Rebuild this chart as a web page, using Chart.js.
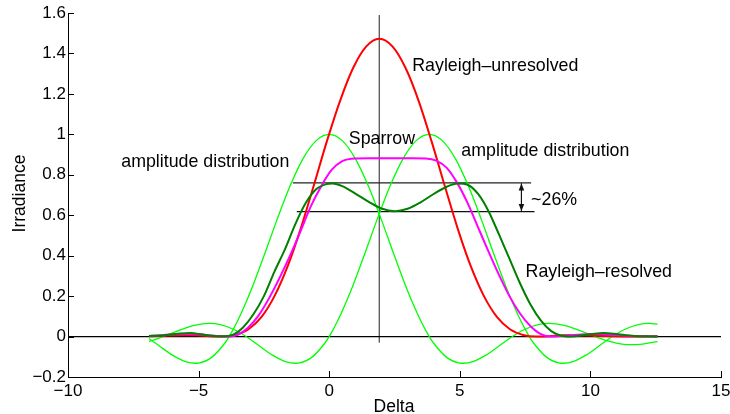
<!DOCTYPE html>
<html>
<head>
<meta charset="utf-8">
<script src="https://cdn.jsdelivr.net/npm/chart.js@4/dist/chart.umd.min.js"></script>
<style>
html,body{margin:0;padding:0;background:#fff;}
#wrap{width:730px;height:414px;position:relative;}
</style>
</head>
<body>
<div id="wrap"><canvas id="c" width="730" height="414"></canvas></div>
<script>
// ---- data ----
const xTicks = [-10, -5, 0, 5, 10, 15];
const xTickLabels = ['\u221210', '\u22125', '0', '5', '10', '15'];
const yTicks = [-0.2, 0, 0.2, 0.4, 0.6, 0.8, 1, 1.2, 1.4, 1.6];
const yTickLabels = ['\u22120.2', '0', '0.2', '0.4', '0.6', '0.8', '1', '1.2', '1.4', '1.6'];

// amplitude distribution, first source
const ampAx = [-6.9,-6.5,-6,-5.5,-5.14,-5,-4.5,-4,-3.83,-3.5,-3,-2.5,-2,-1.5,-1,-0.5,0,0.5,1,1.5,2,2.5,3,3.5,3.83,4,4.5,5,5.14,5.5,6,6.5,7,7.5,8,8.42,9,9.5,10,10.5,11,11.5,12,12.57];
const ampA  = [-0.010,-0.047,-0.092,-0.124,-0.132,-0.131,-0.103,-0.033,0,0.079,0.226,0.398,0.577,0.744,0.880,0.969,1,0.969,0.880,0.744,0.577,0.398,0.226,0.079,0,-0.033,-0.103,-0.131,-0.132,-0.124,-0.092,-0.047,-0.001,0.036,0.059,0.065,0.055,0.034,0.009,-0.015,-0.032,-0.040,-0.037,-0.025];

// amplitude distribution, second source
const ampBx = [-6.9,-6.67,-6.17,-5.67,-5.17,-4.59,-4.17,-3.67,-3.17,-2.67,-2.17,-1.67,-1.31,-1.17,-0.67,-0.17,0,0.33,0.83,1.33,1.83,2.33,2.83,3.33,3.83,4.33,4.83,5.33,5.83,6.33,6.83,7.33,7.66,7.83,8.33,8.83,8.97,9.33,9.83,10.33,10.83,11.33,11.83,12.25,12.57];
const ampB  = [-0.024,-0.015,0.009,0.034,0.055,0.065,0.059,0.036,-0.001,-0.047,-0.092,-0.124,-0.132,-0.131,-0.103,-0.033,0,0.079,0.226,0.398,0.577,0.744,0.880,0.969,1,0.969,0.880,0.744,0.577,0.398,0.226,0.079,0,-0.033,-0.103,-0.131,-0.132,-0.124,-0.092,-0.047,-0.001,0.036,0.059,0.065,0.061];

// Rayleigh-unresolved
const redX = [-6.9,-6.59,-6.09,-5.59,-5.09,-4.59,-4.09,-3.59,-3.09,-2.59,-2.09,-1.59,-1.09,-0.59,-0.09,0.42,0.92,1.42,1.92,2.42,2.92,3.42,3.92,4.42,4.92,5.42,5.92,6.42,6.92,7.42,7.92,8.42,8.92,9.42,9.92,10.42,10.92,11.42,11.92,12.42,12.57];
const redY = [0.001,0.003,0.005,0.007,0.006,0.002,0,0.008,0.036,0.097,0.201,0.348,0.534,0.747,0.965,1.167,1.329,1.435,1.473,1.435,1.329,1.167,0.965,0.747,0.534,0.348,0.201,0.097,0.036,0.008,0,0.002,0.006,0.007,0.005,0.003,0.001,0,0.0005,0.001,0.0015];

// Sparrow
const mgX = [-6.9,-6.4,-5.9,-5.4,-4.9,-4.4,-3.9,-3.5,-3.1,-2.7,-2.3,-1.9,-1.5,-1.1,-0.7,-0.3,0.1,0.5,1.0,1.5,2.33,3.2,3.7,4.1,4.5,4.9,5.3,5.7,6.1,6.5,6.9,7.3,7.7,8.1,8.5,9.0,9.5,10.0,10.5,11.0,11.5,12.0,12.57];
const mgY = [0.003,0.007,0.011,0.013,0.010,0.004,0,0.009,0.045,0.105,0.19,0.29,0.40,0.52,0.645,0.745,0.825,0.868,0.881,0.882,0.882,0.882,0.881,0.87,0.834,0.76,0.66,0.54,0.42,0.305,0.20,0.115,0.052,0.012,0,0.004,0.009,0.013,0.012,0.008,0.004,0.001,0];

// Rayleigh-resolved
const dgX = [-6.9,-6.5,-6.1,-5.7,-5.3,-4.9,-4.5,-4.1,-3.7,-3.3,-2.9,-2.5,-2.1,-1.7,-1.3,-0.9,-0.5,-0.1,0.12,0.5,1.0,1.5,2.0,2.52,3.0,3.5,4.0,4.5,4.92,5.3,5.7,6.1,6.5,6.9,7.3,7.7,8.1,8.5,8.9,9.3,9.7,10.1,10.5,10.9,11.3,11.7,12.1,12.57];
const dgY = [0.003,0.005,0.010,0.015,0.017,0.011,0.004,0.001,0.008,0.045,0.11,0.20,0.32,0.43,0.555,0.66,0.728,0.754,0.757,0.744,0.707,0.667,0.633,0.620,0.632,0.664,0.705,0.741,0.757,0.751,0.705,0.62,0.505,0.385,0.265,0.16,0.08,0.027,0.004,0,0.006,0.013,0.017,0.014,0.008,0.003,0.001,0];

// reference lines
const zeroLineX = [-10, 15];       const zeroLineY = [0, 0];
const centerLineX = [1.915, 1.915]; const centerLineY = [-0.03, 1.59];
const peakLineX = [-1.39, 7.73];   const peakLineY = [0.76, 0.76];
const dipLineX = [-1.24, 7.86];    const dipLineY = [0.618, 0.618];
const arrowX = [7.36, 7.36];       const arrowY = [0.757, 0.621];

// text annotations (data coordinates, left edge / baseline)
const notes = [
  {text: 'Rayleigh\u2013unresolved', x: 3.18, y: 1.311},
  {text: 'Sparrow', x: 0.75, y: 0.95},
  {text: 'amplitude distribution', x: -7.96, y: 0.838},
  {text: 'amplitude distribution', x: 5.06, y: 0.892},
  {text: '~26%', x: 7.73, y: 0.649},
  {text: 'Rayleigh\u2013resolved', x: 7.52, y: 0.293}
];

// ---- build chart ----
const FONT = '"Liberation Sans", Arial, Helvetica, sans-serif';
const pts = (xs, ys) => xs.map((x, i) => ({x: x, y: ys[i]}));

function curve(xs, ys, color, width) {
  return {data: pts(xs, ys), borderColor: color, borderWidth: width, pointRadius: 0,
          fill: false, cubicInterpolationMode: 'monotone'};
}
function straight(xs, ys, color, width) {
  return {data: pts(xs, ys), borderColor: color, borderWidth: width, pointRadius: 0,
          fill: false, tension: 0};
}

const datasets = [
  curve(dgX, dgY, '#008000', 2),
  curve(mgX, mgY, '#ff00ff', 2),
  curve(redX, redY, '#ff0000', 2),
  curve(ampAx, ampA, '#00ff00', 1.3),
  curve(ampBx, ampB, '#00ff00', 1.3),
  straight(zeroLineX, zeroLineY, '#000000', 1.2),
  straight(centerLineX, centerLineY, '#222222', 1),
  straight(peakLineX, peakLineY, '#222222', 1.2),
  straight(dipLineX, dipLineY, '#111111', 1.2),
  straight(arrowX, arrowY, '#111111', 1)
];

const overlay = {
  id: 'overlay',
  afterDraw(chart) {
    const ctx = chart.ctx, xs = chart.scales.x, ys = chart.scales.y;
    const area = chart.chartArea;
    ctx.save();
    // inward tick marks
    ctx.strokeStyle = '#000'; ctx.lineWidth = 1;
    ctx.beginPath();
    xTicks.forEach(v => {
      const px = Math.round(xs.getPixelForValue(v)) + 0.5;
      ctx.moveTo(px, area.bottom); ctx.lineTo(px, area.bottom - 6);
    });
    yTicks.forEach(v => {
      const py = Math.round(ys.getPixelForValue(v)) + 0.5;
      ctx.moveTo(area.left, py); ctx.lineTo(area.left + 6, py);
    });
    ctx.stroke();
    // arrow heads
    ctx.fillStyle = '#111';
    const ax = xs.getPixelForValue(arrowX[0]);
    const top = ys.getPixelForValue(arrowY[0]);
    const bot = ys.getPixelForValue(arrowY[1]);
    ctx.beginPath();
    ctx.moveTo(ax, top); ctx.lineTo(ax - 2.8, top + 7); ctx.lineTo(ax + 2.8, top + 7); ctx.closePath();
    ctx.fill();
    ctx.beginPath();
    ctx.moveTo(ax, bot); ctx.lineTo(ax - 2.8, bot - 7); ctx.lineTo(ax + 2.8, bot - 7); ctx.closePath();
    ctx.fill();
    // annotations
    ctx.fillStyle = '#000';
    ctx.font = '17.8px ' + FONT;
    ctx.textAlign = 'left'; ctx.textBaseline = 'alphabetic';
    notes.forEach(n => ctx.fillText(n.text, xs.getPixelForValue(n.x), ys.getPixelForValue(n.y)));
    // axis titles
    ctx.textAlign = 'center';
    ctx.font = '17.5px ' + FONT;
    ctx.fillText('Delta', (area.left + area.right) / 2 - 0.5, 411.5);
    ctx.translate(24.5, 193.5);
    ctx.rotate(-Math.PI / 2);
    ctx.fillText('Irradiance', 0, 0);
    ctx.restore();
  }
};

new Chart(document.getElementById('c'), {
  type: 'line',
  data: {datasets: datasets},
  options: {
    responsive: false,
    devicePixelRatio: 1,
    animation: false,
    events: [],
    layout: {padding: {left: 0, right: 0, top: 13, bottom: 0}},
    plugins: {legend: {display: false}, tooltip: {enabled: false}},
    scales: {
      x: {
        type: 'linear', min: -10, max: 15,
        afterBuildTicks: s => { s.ticks = xTicks.map(v => ({value: v})); },
        afterFit: s => { s.height = 37; s.paddingRight = 9; },
        grid: {drawOnChartArea: false, drawTicks: false},
        border: {display: true, color: '#000', width: 1},
        ticks: {color: '#000', font: {family: FONT, size: 17}, padding: 4, autoSkip: false, maxRotation: 0,
                callback: (v, i) => xTickLabels[i]}
      },
      y: {
        type: 'linear', min: -0.2, max: 1.6,
        afterBuildTicks: s => { s.ticks = yTicks.map(v => ({value: v})); },
        afterFit: s => { s.width = 68; },
        grid: {drawOnChartArea: false, drawTicks: false},
        border: {display: true, color: '#000', width: 1},
        ticks: {color: '#000', font: {family: FONT, size: 17}, padding: 2, autoSkip: false,
                callback: (v, i) => yTickLabels[i]}
      }
    }
  },
  plugins: [overlay]
});
</script>
</body>
</html>
